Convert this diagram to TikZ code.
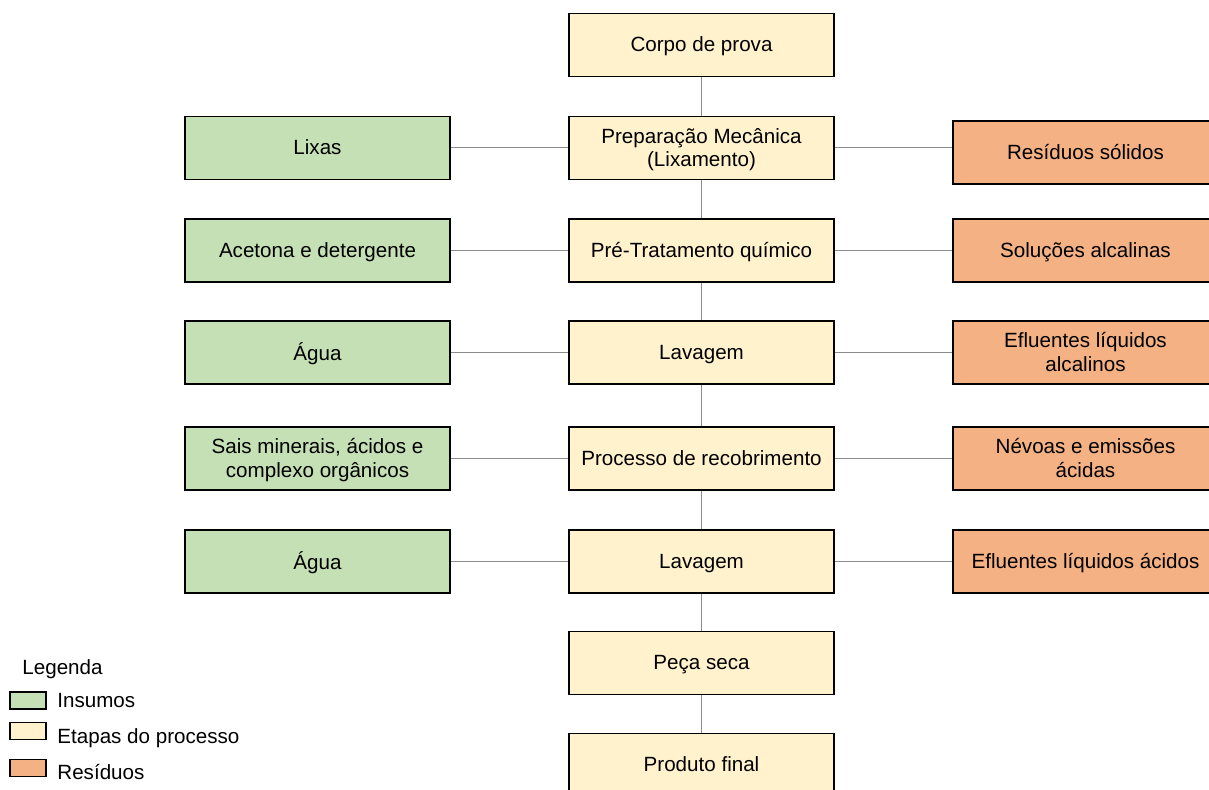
\documentclass[tikz,border=0pt]{standalone}
\usepackage{fontspec}
\setmainfont{Liberation Sans}
\usetikzlibrary{positioning}
\definecolor{insumogreen}{HTML}{C5E0B4}
\definecolor{etapayellow}{HTML}{FFF2CC}
\definecolor{residuoorange}{HTML}{F4B183}
\definecolor{linkgray}{HTML}{8C8C8C}

\begin{document}
\begin{tikzpicture}[
    x=0.5pt, y=-0.5pt,
    every node/.style={font=\fontsize{10.3}{11.7}\selectfont},
    box/.style={
        rectangle,
        draw=black,
        line width=0.7pt,
        fill=#1,
        minimum width=132.5pt,
        minimum height=31.5pt,
        inner sep=2pt,
        align=center,
        text depth=0.5pt
    },
    swatch/.style={
        rectangle,
        draw=black,
        line width=0.6pt,
        fill=#1,
        minimum width=18pt,
        minimum height=8.5pt,
        inner sep=0pt
    },
    link/.style={
        draw=linkgray,
        line width=0.5pt
    }
]

    \useasboundingbox (0,0) rectangle (1209,790);

    % Process steps (centre column)
    \node[box=etapayellow] (corpo) at (701.5, 45) {Corpo de prova};
    \node[box=etapayellow] (prep) at (701.5, 148) {Preparação Mecânica\\(Lixamento)};
    \node[box=etapayellow] (pretrat) at (701.5, 250.5) {Pré-Tratamento químico};
    \node[box=etapayellow] (lav1) at (701.5, 352.5) {Lavagem};
    \node[box=etapayellow] (recob) at (701.5, 458.5) {Processo de recobrimento};
    \node[box=etapayellow] (lav2) at (701.5, 561.5) {Lavagem};
    \node[box=etapayellow] (seca) at (701.5, 663) {Peça seca};
    \node[box=etapayellow] (final) at (701.5, 765) {Produto final};

    % Inputs (left column)
    \node[box=insumogreen] (lixas) at (317.5, 148) {Lixas};
    \node[box=insumogreen] (acetona) at (317.5, 250.5) {Acetona e detergente};
    \node[box=insumogreen] (agua1) at (317.5, 352.5) {Água};
    \node[box=insumogreen] (sais) at (317.5, 458.5) {Sais minerais, ácidos e\\complexo orgânicos};
    \node[box=insumogreen] (agua2) at (317.5, 561.5) {Água};

    % Wastes (right column)
    \node[box=residuoorange] (solidos) at (1085.5, 152.5) {Resíduos sólidos};
    \node[box=residuoorange] (alcalinas) at (1085.5, 250.5) {Soluções alcalinas};
    \node[box=residuoorange] (eflalc) at (1085.5, 352.5) {Efluentes líquidos\\alcalinos};
    \node[box=residuoorange] (nevoas) at (1085.5, 458.5) {Névoas e emissões\\ácidas};
    \node[box=residuoorange] (eflac) at (1085.5, 561.5) {Efluentes líquidos ácidos};

    % Main flow
    \draw[link] (corpo) -- (prep);
    \draw[link] (prep) -- (pretrat);
    \draw[link] (pretrat) -- (lav1);
    \draw[link] (lav1) -- (recob);
    \draw[link] (recob) -- (lav2);
    \draw[link] (lav2) -- (seca);
    \draw[link] (seca) -- (final);

    % Inputs to steps
    \draw[link] (lixas) -- (prep);
    \draw[link] (acetona) -- (pretrat);
    \draw[link] (agua1) -- (lav1);
    \draw[link] (sais) -- (recob);
    \draw[link] (agua2) -- (lav2);

    % Steps to wastes
    \draw[link] (prep) -- (prep -| solidos.west);
    \draw[link] (pretrat) -- (alcalinas);
    \draw[link] (lav1) -- (eflalc);
    \draw[link] (recob) -- (nevoas);
    \draw[link] (lav2) -- (eflac);

    % Legend
    \node[anchor=base west, inner sep=0pt] (legtitle) at (22, 674) {Legenda};
    \node[swatch=insumogreen] (legins) at (28, 700.5) {};
    \node[swatch=etapayellow] (legeta) at (28, 731) {};
    \node[swatch=residuoorange] (legres) at (28, 768) {};
    \node[anchor=base west, inner sep=0pt] (legtxtins) at (57, 707) {Insumos};
    \node[anchor=base west, inner sep=0pt] (legtxteta) at (57, 743) {Etapas do processo};
    \node[anchor=base west, inner sep=0pt] (legtxtres) at (57, 779) {Resíduos};

\end{tikzpicture}
\end{document}
